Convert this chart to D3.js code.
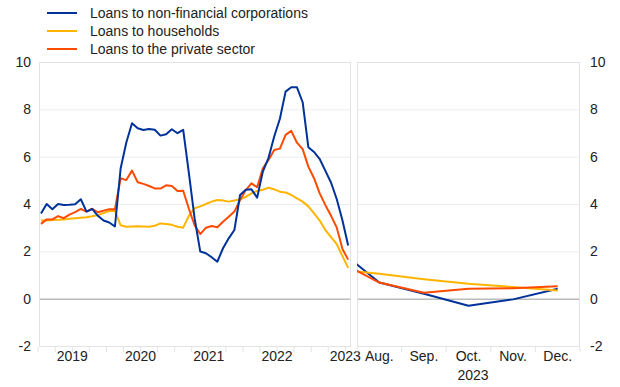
<!DOCTYPE html>
<html>
<head>
<meta charset="utf-8">
<script src="https://cdn.jsdelivr.net/npm/d3@7"></script>
<style>
  body { margin: 0; background: #fff; }
  svg { font-family: "Liberation Sans", Arial, sans-serif; }
</style>
</head>
<body>
<script>
// Monthly growth rates, Jan 2019 - Jul 2023 (left panel)
const nfc = [3.6, 4.0, 3.78, 4.0, 3.96, 3.97, 3.99, 4.2, 3.68, 3.79, 3.5, 3.3,
  3.22, 3.05, 5.5, 6.6, 7.41, 7.2, 7.13, 7.17, 7.14, 6.89, 6.95, 7.16,
  6.99, 7.13, 5.3, 3.4, 1.99, 1.92, 1.75, 1.56, 2.13, 2.55, 2.9, 4.38,
  4.6, 4.62, 4.27, 5.37, 5.95, 6.85, 7.6, 8.75, 8.93, 8.93, 8.3, 6.4,
  6.2, 5.9, 5.4, 4.9, 4.2, 3.3, 2.25];
const households = [3.3, 3.3, 3.32, 3.33, 3.35, 3.38, 3.4, 3.42, 3.44, 3.48, 3.53, 3.62,
  3.7, 3.7, 3.1, 3.04, 3.05, 3.06, 3.05, 3.04, 3.08, 3.18, 3.15, 3.12,
  3.04, 3.0, 3.5, 3.82, 3.9, 4.0, 4.1, 4.17, 4.15, 4.1, 4.15, 4.2,
  4.3, 4.45, 4.55, 4.6, 4.69, 4.62, 4.52, 4.49, 4.38, 4.24, 4.1, 3.9,
  3.6, 3.3, 2.9, 2.6, 2.3, 1.8, 1.3];
const privateSector = [3.16, 3.35, 3.35, 3.49, 3.4, 3.55, 3.66, 3.79, 3.68, 3.8, 3.65, 3.72,
  3.78, 3.78, 5.09, 5.01, 5.41, 4.92, 4.85, 4.76, 4.66, 4.65, 4.79, 4.76,
  4.55, 4.56, 3.8, 3.1, 2.73, 3.0, 3.07, 3.02, 3.25, 3.46, 3.68, 4.17,
  4.59, 4.87, 4.71, 5.51, 5.86, 6.28, 6.34, 6.92, 7.09, 6.59, 6.32, 5.58,
  5.09, 4.45, 3.95, 3.5, 3.0, 2.1, 1.65];
const yearLabels = ["2019", "2020", "2021", "2022", "2023"];

// Monthly changes, Jul - Dec 2023 (right panel)
const monthLabels = ["Jul.", "Aug.", "Sep.", "Oct.", "Nov.", "Dec."];
const nfcRecent = [2.2, 0.68, 0.21, -0.3, -0.03, 0.42];
const householdsRecent = [1.25, 1.05, 0.82, 0.63, 0.49, 0.35];
const privateRecent = [1.66, 0.68, 0.25, 0.42, 0.44, 0.52];

const yTicks = [-2, 0, 2, 4, 6, 8, 10];

const series = [
  { name: "Loans to non-financial corporations", color: "#003299", left: nfc, right: nfcRecent },
  { name: "Loans to households", color: "#ffb400", left: households, right: householdsRecent },
  { name: "Loans to the private sector", color: "#ff4b00", left: privateSector, right: privateRecent }
];

const width = 620, height = 387;
const plotTop = 62, plotBottom = 346;
const leftPanel = { x0: 39, x1: 351 };
const rightPanel = { x0: 357, x1: 580 };

const svg = d3.select("body").append("svg")
  .attr("width", width).attr("height", height);

const y = d3.scaleLinear().domain([-2, 10]).range([plotBottom, plotTop]);
const xL = d3.scaleLinear().domain([-0.35, 54.5]).range([leftPanel.x0, leftPanel.x1]);
const xR = d3.scaleLinear().domain([0.5, 5.5]).range([rightPanel.x0, rightPanel.x1]);

// clip paths
const defs = svg.append("defs");
[["clipL", leftPanel], ["clipR", rightPanel]].forEach(([id, p]) => {
  defs.append("clipPath").attr("id", id).append("rect")
    .attr("x", p.x0).attr("y", plotTop).attr("width", p.x1 - p.x0).attr("height", plotBottom - plotTop);
});

function drawPanel(p) {
  const g = svg.append("g");
  g.selectAll("line.grid").data(yTicks).enter().append("line")
    .attr("x1", p.x0).attr("x2", p.x1)
    .attr("y1", d => y(d) + 0.5).attr("y2", d => y(d) + 0.5)
    .attr("stroke", d => d === 0 ? "#9a9a9a" : "#ececec")
    .attr("stroke-width", 1);
  g.append("rect")
    .attr("x", p.x0 + 0.5).attr("y", plotTop + 0.5)
    .attr("width", p.x1 - p.x0 - 1).attr("height", plotBottom - plotTop)
    .attr("fill", "none").attr("stroke", "#e3e3e3");
  return g;
}
drawPanel(leftPanel);
drawPanel(rightPanel);

// left axis
svg.append("g").selectAll("text").data(yTicks).enter().append("text")
  .attr("x", 31).attr("y", d => y(d)).attr("dy", "0.35em")
  .attr("text-anchor", "end").attr("font-size", 14).attr("fill", "#222")
  .text(d => d);
// right axis
svg.append("g").selectAll("text").data(yTicks).enter().append("text")
  .attr("x", 590).attr("y", d => y(d)).attr("dy", "0.35em")
  .attr("text-anchor", "start").attr("font-size", 14).attr("fill", "#222")
  .text(d => d);

// bottom ticks left (quarters)
const qTicks = d3.range(-0.5, 54.5, 3);
svg.append("g").selectAll("line").data(qTicks).enter().append("line")
  .attr("x1", d => xL(d)).attr("x2", d => xL(d))
  .attr("y1", plotBottom + 1).attr("y2", plotBottom + 6)
  .attr("stroke", "#e3e3e3");
svg.append("g").selectAll("text").data(yearLabels).enter().append("text")
  .attr("x", (d, i) => xL(i * 12 + 5.5)).attr("y", plotBottom + 15)
  .attr("text-anchor", "middle").attr("font-size", 14).attr("fill", "#222")
  .text(d => d);

// bottom ticks right (month boundaries)
const mTicks = d3.range(0.5, 6, 1);
svg.append("g").selectAll("line").data(mTicks).enter().append("line")
  .attr("x1", d => xR(d)).attr("x2", d => xR(d))
  .attr("y1", plotBottom + 1).attr("y2", plotBottom + 6)
  .attr("stroke", "#e3e3e3");
svg.append("g").selectAll("text").data(monthLabels.slice(1)).enter().append("text")
  .attr("x", (d, i) => xR(i + 1)).attr("y", plotBottom + 15)
  .attr("text-anchor", "middle").attr("font-size", 14).attr("fill", "#222")
  .text(d => d);
svg.append("text")
  .attr("x", xR(3.1)).attr("y", plotBottom + 34)
  .attr("text-anchor", "middle").attr("font-size", 14).attr("fill", "#222")
  .text("2023");

// lines
const lineL = d3.line().x((d, i) => xL(i)).y(d => y(d));
const lineR = d3.line().x((d, i) => xR(i)).y(d => y(d));
const order = [1, 2, 0];
order.forEach(k => {
  const s = series[k];
  svg.append("path").datum(s.left)
    .attr("clip-path", "url(#clipL)")
    .attr("d", lineL).attr("fill", "none")
    .attr("stroke", s.color).attr("stroke-width", 2).attr("stroke-linejoin", "round");
});
[0, 1, 2].forEach(k => {
  const s = series[k];
  svg.append("path").datum(s.right)
    .attr("clip-path", "url(#clipR)")
    .attr("d", lineR).attr("fill", "none")
    .attr("stroke", s.color).attr("stroke-width", 2).attr("stroke-linejoin", "round");
});

// legend
const legend = svg.append("g");
series.forEach((s, i) => {
  const ly = 13 + i * 18;
  legend.append("line")
    .attr("x1", 47).attr("x2", 77).attr("y1", ly).attr("y2", ly)
    .attr("stroke", s.color).attr("stroke-width", 2);
  legend.append("text")
    .attr("x", 90).attr("y", ly).attr("dy", "0.35em")
    .attr("font-size", 14).attr("fill", "#222")
    .text(s.name);
});
</script>
</body>
</html>
